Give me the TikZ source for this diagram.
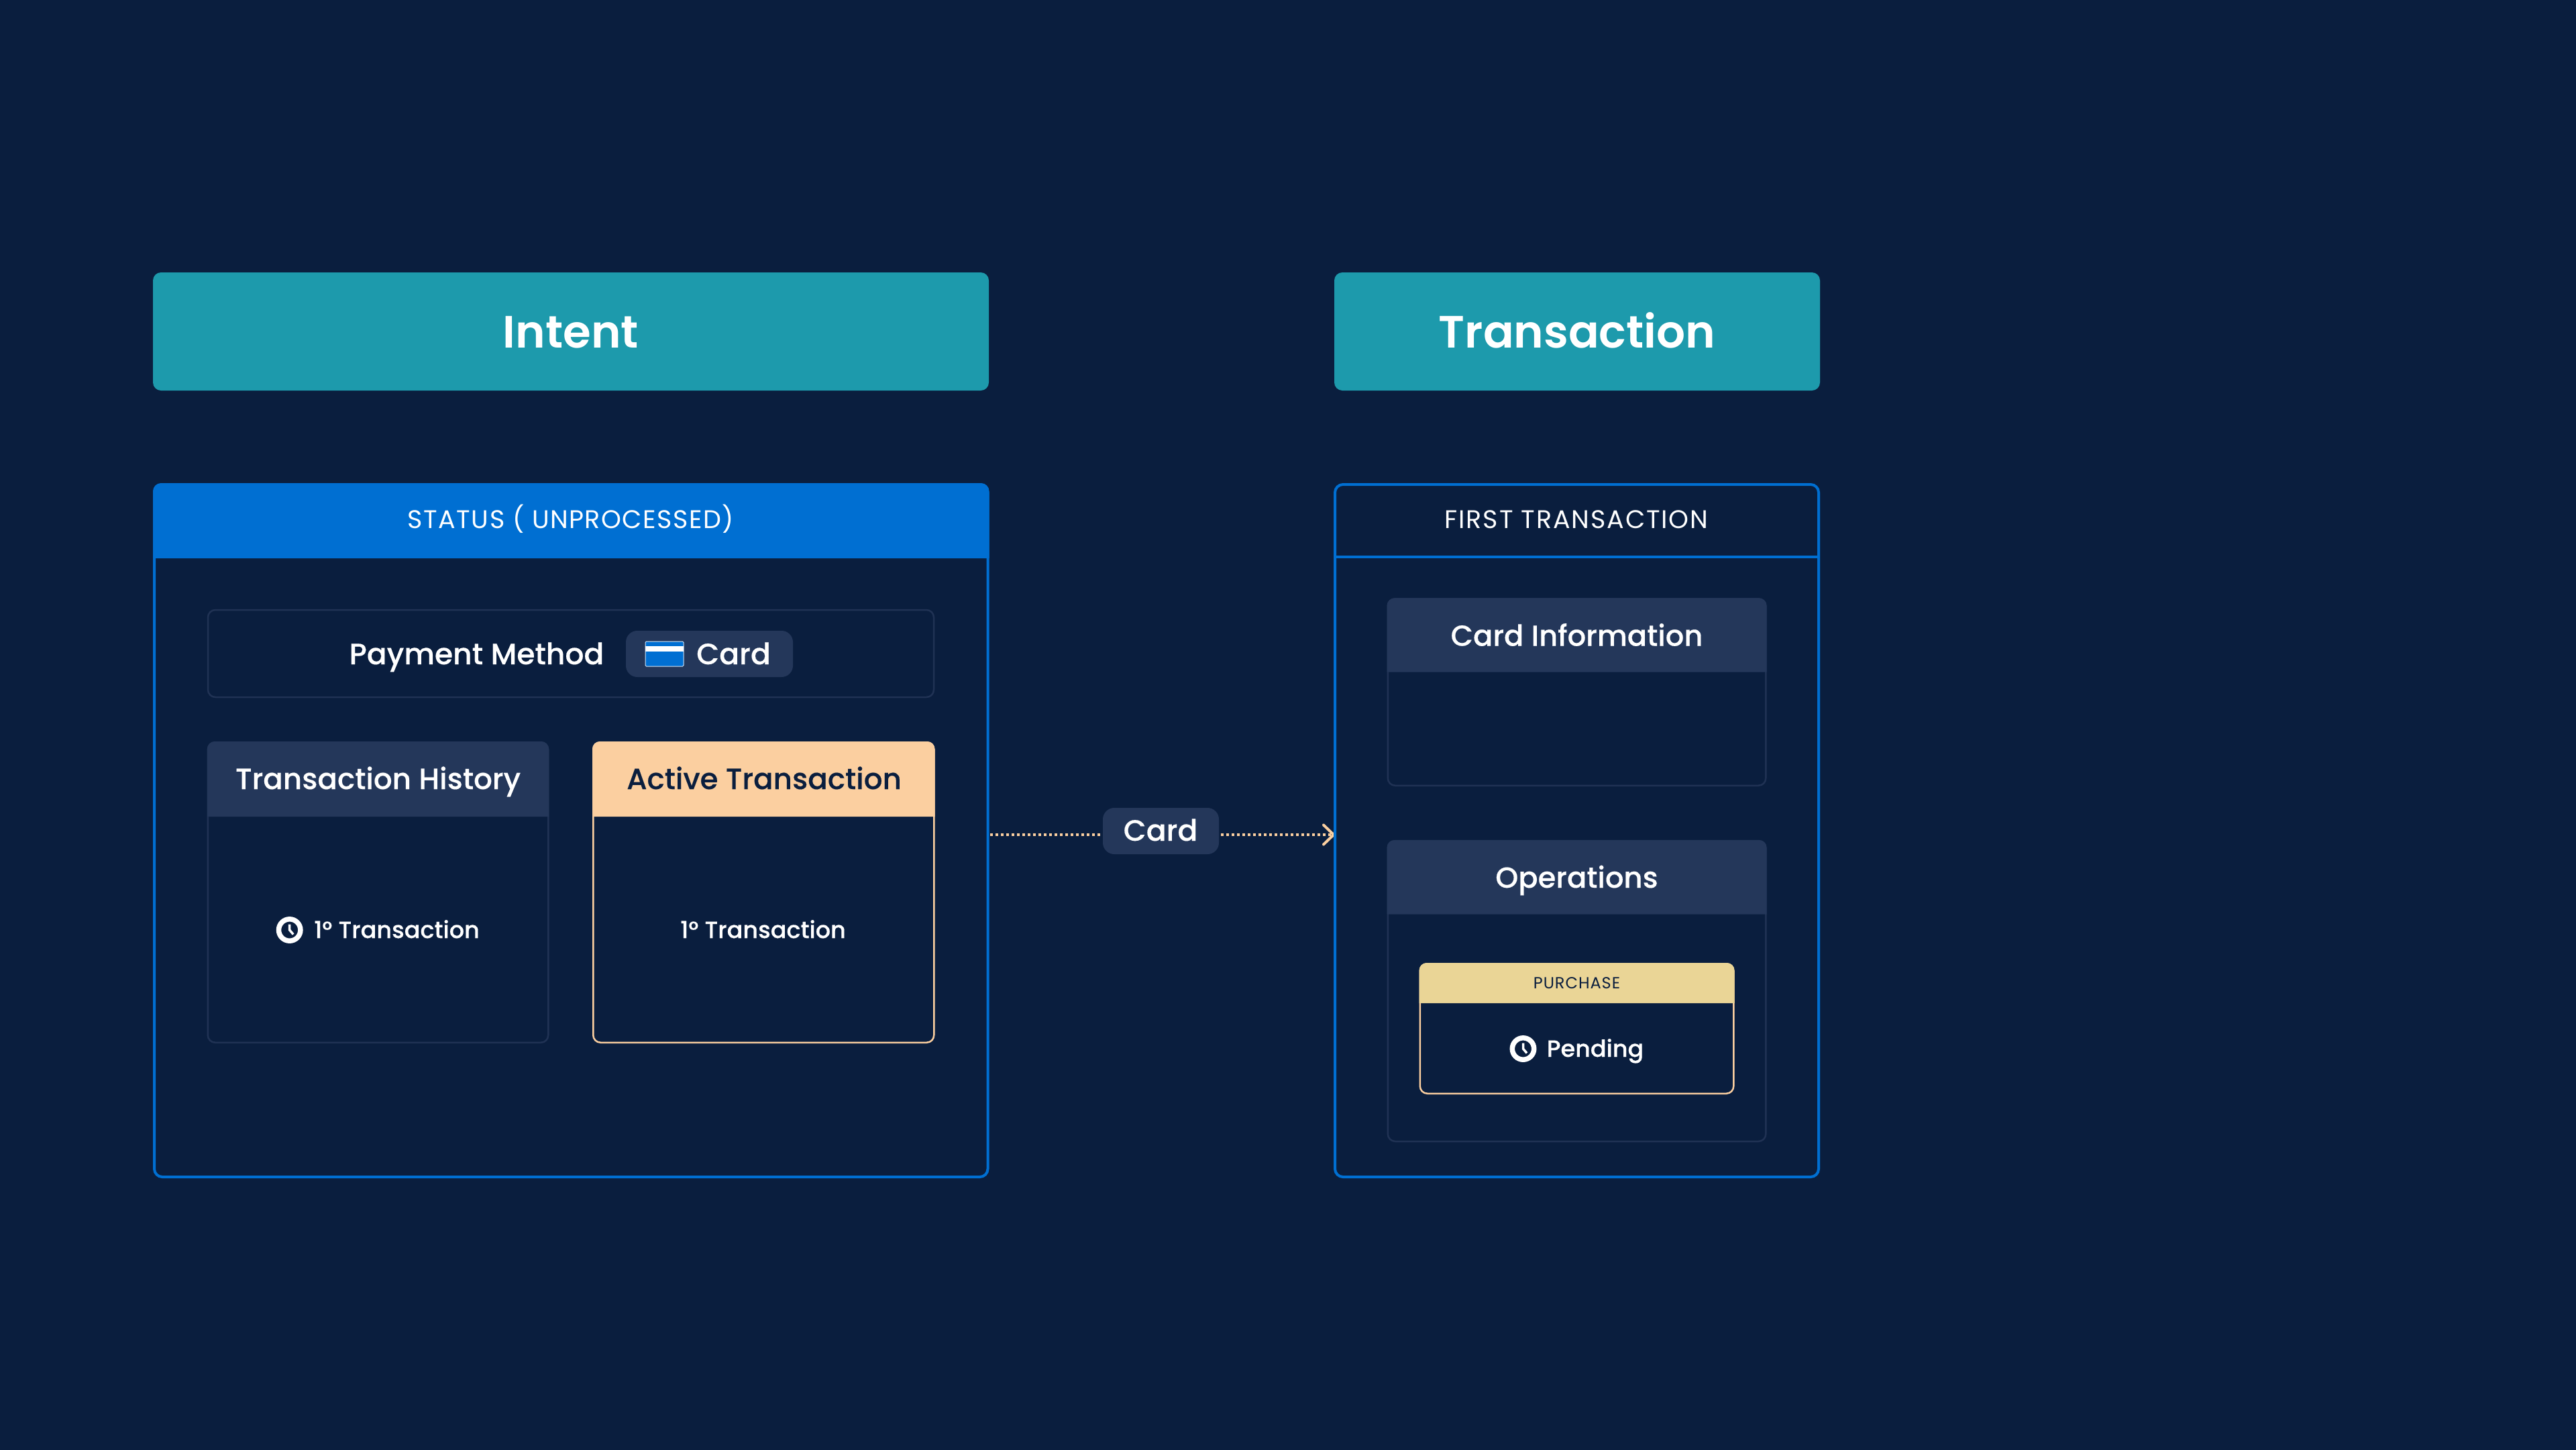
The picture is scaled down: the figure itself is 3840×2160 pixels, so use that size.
\documentclass[tikz,border=0pt]{standalone}
\usepackage{fontspec}
\usetikzlibrary{arrows.meta}
\setmainfont{Poppins}
\newfontfamily\med[FakeBold=0.25]{Poppins Medium}
\newfontfamily\semi{Poppins SemiBold}
\newfontfamily\reg[LetterSpace=4]{Poppins}
\newfontfamily\regw[LetterSpace=5]{Poppins}
\definecolor{bgc}{HTML}{0A1E3E}
\definecolor{tealc}{HTML}{1D9AAC}
\definecolor{bluec}{HTML}{006FD2}
\definecolor{softc}{HTML}{24375A}
\definecolor{softline}{HTML}{203254}
\definecolor{peachc}{HTML}{FBCFA0}
\definecolor{goldc}{HTML}{EAD596}
\newcommand\sz[1]{\fontsize{#1}{#1}\selectfont}
\tikzset{
  x=1pt,y=-1pt,
  lbl/.style={inner sep=0pt,outer sep=0pt,anchor=base,text=white},
  banner/.style={rectangle,fill=tealc,rounded corners=12pt,inner sep=0pt,minimum width=#1,minimum height=176pt},
  panelbox/.style={rectangle,draw=bluec,line width=4pt,rounded corners=12pt,inner sep=0pt},
  softbox/.style={rectangle,draw=softline,line width=2.5pt,rounded corners=11pt,inner sep=0pt},
  peachbox/.style={rectangle,draw=peachc,line width=2.5pt,rounded corners=11pt,inner sep=0pt},
  pill/.style={rectangle,fill=softc,rounded corners=17pt,inner sep=0pt},
  flow/.style={draw=peachc,line width=4pt,dash pattern=on 4pt off 4pt},
  clockicon/.pic={
    \draw[white,line width=7.5pt] (0,0) circle (16.2);
    \draw[white,line width=3.5pt] (0,-8.5) -- (0,0) -- (5.5,6.5);
  }
}
\begin{document}
\begin{tikzpicture}
\useasboundingbox (0,0) rectangle (3840,2160);
\fill[bgc] (-10,-10) rectangle (3850,2170);

% banners
\node[banner=1246pt] (intentbar) at (851,494) {};
\node[banner=724pt] (txbar) at (2351,494) {};
\node[lbl,font=\semi\sz{67.5}] (intent) at (851,518.5) {Intent};
\node[lbl,font=\semi\sz{67.5}] (txtitle) at (2351,518.5) {Transaction};

% connector
\coordinate (flowstart) at (1476,1244);
\coordinate (flowend) at (1990,1244);
\draw[flow,-{Straight Barb[length=15pt,width=29pt,round,line width=4pt]}] (flowstart) -- (flowend);

% status panel
\fill[bluec] (228,832) [rounded corners=12pt] -- (228,720) -- (1474.5,720) [sharp corners] -- (1474.5,832) -- cycle;
\node[panelbox,minimum width=1242.5pt,minimum height=1032pt] (status) at (851.25,1238) {};
\node[lbl,font=\reg\sz{38}] (statustxt) at (851,787) {STATUS ( UNPROCESSED)};

% payment row
\node[softbox,minimum width=1082pt,minimum height=130pt] (payment) at (851,974) {};
\node[lbl,font=\med\sz{44}] (paylabel) at (710.5,990) {Payment Method};
\node[pill,minimum width=249pt,minimum height=69pt] (cardpill) at (1057.5,974.5) {};
\node[lbl,font=\med\sz{44}] (cardtxt) at (1093.5,990) {Card};
\fill[bluec] (962,956) rectangle (1019,993);
\fill[white] (962,963) rectangle (1019,971);
\draw[white!85!bluec,line width=1pt,rounded corners=1.5pt] (962,956) rectangle (1019,993);

% transaction history
\node[softbox,minimum width=507.5pt,minimum height=447.5pt] (hist) at (563.5,1330) {};
\fill[softc] (309,1217) [rounded corners=11pt] -- (309,1105) -- (818,1105) [sharp corners] -- (818,1217) -- cycle;
\node[lbl,font=\med\sz{43.6}] (histtitle) at (563.5,1176) {Transaction History};
\pic at (431.7,1386) {clockicon};
\node[lbl,font=\med\sz{35}] (histitem) at (591.5,1398) {1° Transaction};

% active transaction
\node[peachbox,minimum width=508pt,minimum height=447.5pt] (active) at (1138.25,1330) {};
\fill[peachc] (883,1217) [rounded corners=11pt] -- (883,1105) -- (1393.5,1105) [sharp corners] -- (1393.5,1217) -- cycle;
\node[lbl,font=\med\sz{43.6},text=bgc] (activetitle) at (1139,1176) {Active Transaction};
\node[lbl,font=\med\sz{35}] (activeitem) at (1137.5,1398) {1° Transaction};

% label pill on connector
\node[pill,minimum width=173pt,minimum height=69pt] (flowpill) at (1730.5,1238.5) {};
\node[lbl,font=\med\sz{44}] (flowtxt) at (1730,1253) {Card};

% first transaction panel
\node[panelbox,minimum width=721pt,minimum height=1032pt] (first) at (2350.5,1238) {};
\draw[bluec,line width=4pt] (1990,830) -- (2711,830);
\node[lbl,font=\regw\sz{38}] (firsttxt) at (2350,787) {FIRST TRANSACTION};

% card information
\node[softbox,minimum width=563.5pt,minimum height=278.5pt] (cardinfo) at (2350.5,1031.5) {};
\fill[softc] (2067.5,1001.5) [rounded corners=11pt] -- (2067.5,891.5) -- (2633.5,891.5) [sharp corners] -- (2633.5,1001.5) -- cycle;
\node[lbl,font=\med\sz{43.3}] (cardinfotxt) at (2350.5,962.5) {Card Information};

% operations
\node[softbox,minimum width=563.5pt,minimum height=448pt] (ops) at (2350.5,1477) {};
\fill[softc] (2067.5,1362.5) [rounded corners=11pt] -- (2067.5,1252) -- (2633.5,1252) [sharp corners] -- (2633.5,1362.5) -- cycle;
\node[lbl,font=\med\sz{43.3}] (opstxt) at (2350.5,1323) {Operations};

% purchase
\node[peachbox,minimum width=467.5pt,minimum height=193.5pt] (purchase) at (2350.5,1533) {};
\fill[goldc] (2115.5,1495) [rounded corners=11pt] -- (2115.5,1435) -- (2585.5,1435) [sharp corners] -- (2585.5,1495) -- cycle;
\node[lbl,font=\reg\sz{24},text=bgc] (purchasetxt) at (2350.5,1473) {PURCHASE};
\pic at (2270.5,1563) {clockicon};
\node[lbl,font=\med\sz{35}] (pending) at (2378,1575) {Pending};
\end{tikzpicture}
\end{document}
